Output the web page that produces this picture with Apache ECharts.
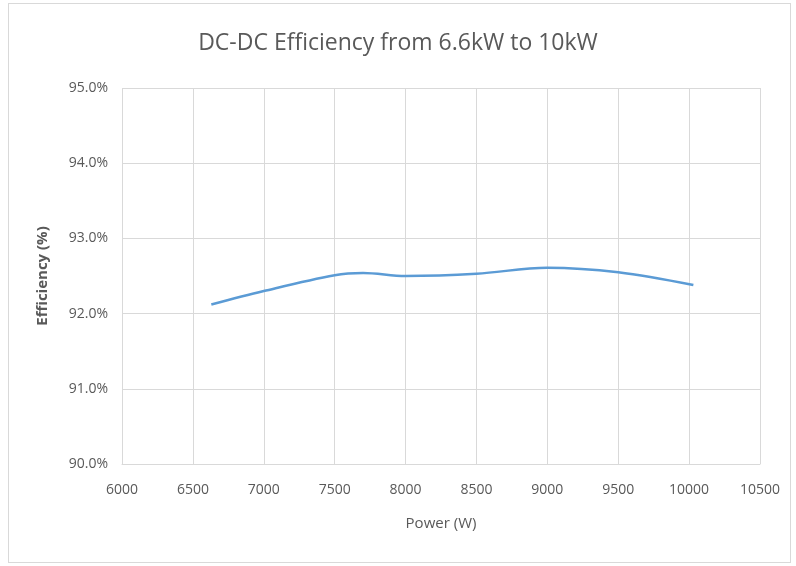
<!DOCTYPE html>
<html>
<head>
<meta charset="utf-8">
<script src="https://cdn.jsdelivr.net/npm/echarts@6/dist/echarts.min.js"></script>
<style>
  html, body { margin: 0; padding: 0; background: #fff; }
  #frame { position: absolute; left: 8px; top: 3px; width: 781px; height: 558px; border: 1px solid #d9d9d9; }
  #chart { position: absolute; left: 0; top: 0; width: 796px; height: 566px; }
</style>
</head>
<body>
<div id="frame"></div>
<div id="chart"></div>
<script>
// power (W) and efficiency (%)
var power = [6630, 7000, 7500, 7700, 8000, 8500, 9000, 9500, 10030];
var efficiency = [92.12, 92.30, 92.51, 92.54, 92.50, 92.53, 92.61, 92.55, 92.38];
var points = power.map(function (p, i) { return [p, efficiency[i]]; });

var textColor = '#595959';
var fontFam = '"Open Sans", sans-serif';

var chart = echarts.init(document.getElementById('chart'));
chart.setOption({
  animation: false,
  title: {
    text: 'DC-DC Efficiency from 6.6kW to 10kW',
    left: 'center',
    top: 27,
    textStyle: { color: textColor, fontSize: 23, fontWeight: 'normal', fontFamily: fontFam }
  },
  grid: { left: 122, right: 36, top: 88, bottom: 102 },
  xAxis: {
    type: 'value',
    min: 6000, max: 10500, interval: 500,
    name: 'Power (W)',
    nameLocation: 'middle',
    nameGap: 52,
    nameTextStyle: { color: textColor, fontSize: 15, fontFamily: fontFam },
    axisLine: { lineStyle: { color: '#d9d9d9' } },
    axisTick: { show: false },
    axisLabel: {
      color: textColor, fontSize: 14, margin: 19, fontFamily: fontFam,
      formatter: function (v) { return String(v); }
    },
    splitLine: { show: true, lineStyle: { color: '#d9d9d9' } }
  },
  yAxis: {
    type: 'value',
    min: 90, max: 95, interval: 1,
    name: 'Efficiency (%)',
    nameLocation: 'middle',
    nameGap: 72,
    nameTextStyle: { color: textColor, fontSize: 15, fontWeight: 'bold', fontFamily: fontFam },
    axisLine: { show: false },
    axisTick: { show: false },
    axisLabel: {
      color: textColor, fontSize: 14, margin: 14, fontFamily: fontFam,
      formatter: function (v) { return v.toFixed(1) + '%'; }
    },
    splitLine: { lineStyle: { color: '#d9d9d9' } }
  },
  series: [{
    type: 'line',
    data: points,
    smooth: 0.35,
    showSymbol: false,
    lineStyle: { color: '#5b9bd5', width: 2.5 }
  }]
});
</script>
</body>
</html>
